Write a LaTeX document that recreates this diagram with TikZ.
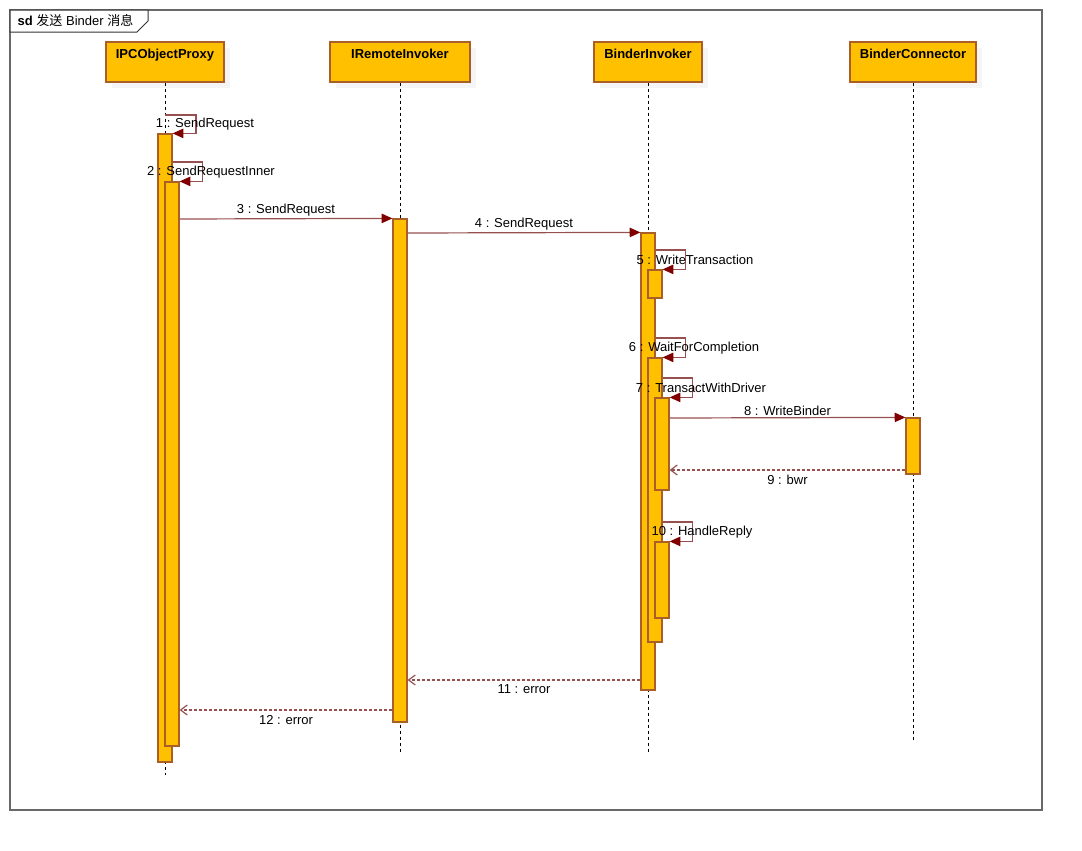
\documentclass[tikz,border=0pt]{standalone}
\usepackage{fontspec}
\setmainfont{Liberation Sans}
\newfontfamily\cjk{Noto Sans CJK SC}
\usetikzlibrary{arrows.meta,shadows}

\definecolor{barfill}{RGB}{255,192,0}
\definecolor{barline}{RGB}{170,95,40}
\definecolor{msgline}{RGB}{150,80,80}
\definecolor{tipred}{RGB}{128,0,0}
\definecolor{framegray}{RGB}{105,105,105}

\tikzset{
  every node/.style={font=\fontsize{9.75}{11.7}\selectfont},
  head/.style={draw=barline, fill=barfill, line width=0.9pt, minimum width=#1*0.75pt,
    inner ysep=3pt, text height=9.5pt, text depth=14.5pt,
    font=\fontsize{9.75}{11.7}\selectfont\bfseries,
    drop shadow={shadow xshift=4.5pt, shadow yshift=-4.5pt, fill=black!4, opacity=1}},
  actbar/.style={draw=barline, fill=barfill, line width=0.9pt, inner sep=0pt,
    minimum width=10.5pt, minimum height=#1*0.75pt},
  lifeline/.style={line width=0.75pt, dash pattern=on 2.25pt off 2.25pt},
  call/.style={draw=msgline, line width=0.9pt, -{Triangle[length=8pt,width=7pt,color=tipred]}},
  reply/.style={draw=msgline, line width=0.9pt, dash pattern=on 2.5pt off 1.25pt,
    -{Straight Barb[length=5pt,width=7.5pt]}},
}

\begin{document}
\begin{tikzpicture}[x=0.75pt,y=-0.75pt]
\useasboundingbox (0,0) rectangle (1082,850);

% frame
\draw[framegray, line width=1.5pt] (10,10) rectangle (1042,810);
\draw[fill=white, draw=black!80, line width=0.75pt] (10,10) -- (148,10) -- (148,21) -- (137,32) -- (10,32) -- cycle;
\node[anchor=west] (title) at (13,21) {\textbf{sd} {\cjk 发送} Binder {\cjk 消息}};

% lifelines
\node[head=118] (ipc) at (165,62) {IPCObjectProxy};
\node[head=140] (rem) at (400,62) {IRemoteInvoker};
\node[head=108] (bin) at (648,62) {BinderInvoker};
\node[head=126] (con) at (913,62) {BinderConnector};
\coordinate (ipcEnd) at (165,775);
\coordinate (remEnd) at (400,752);
\coordinate (binEnd) at (648,752);
\coordinate (conEnd) at (913,740);
\draw[lifeline] (ipc) -- (ipcEnd);
\draw[lifeline] (rem) -- (remEnd);
\draw[lifeline] (bin) -- (binEnd);
\draw[lifeline] (con) -- (conEnd);

% activations
\node[actbar=628] (ipc1) at (165,448) {};
\node[actbar=564] (ipc2) at (172,464) {};
\node[actbar=503] (rem1) at (400,470.5) {};
\node[actbar=457] (bin1) at (648,461.5) {};
\node[actbar=28] (bin2) at (655,284) {};
\node[actbar=284] (bin3) at (655,500) {};
\node[actbar=92] (bin4) at (662,444) {};
\node[actbar=76] (bin5) at (662,580) {};
\node[actbar=56] (con1) at (913,446) {};

% messages
\draw[call] (ipc |- 0,115) -- ++(31,0) |- (ipc1.north east);
\node (l1) at (205,124) {1 : SendRequest};
\draw[call] (ipc1.east |- 0,162) -- ++(30,0) |- (ipc2.north east);
\node (l2) at (211,172) {2 : SendRequestInner};
\draw[call] (ipc2.east |- 0,219) -- node[above, yshift=-2pt] {3 : SendRequest} (rem1.north west);
\draw[call] (rem1.east |- 0,233) -- node[above, yshift=-2pt] {4 : SendRequest} (bin1.north west);
\draw[call] (bin1.east |- 0,250) -- ++(30,0) |- (bin2.north east);
\node (l5) at (695,260) {5 : WriteTransaction};
\draw[call] (bin1.east |- 0,338) -- ++(30,0) |- (bin3.north east);
\node (l6) at (694,348) {6 : WaitForCompletion};
\draw[call] (bin3.east |- 0,378) -- ++(30,0) |- (bin4.north east);
\node (l7) at (701,388) {7 : TransactWithDriver};
\draw[call] (bin4.east |- 0,418) -- node[above, yshift=-2pt] {8 : WriteBinder} (con1.north west);
\draw[reply] (con1.west |- 0,470) -- node[below] {9 : bwr} (bin4.east |- 0,470);
\draw[call] (bin3.east |- 0,522) -- ++(30,0) |- (bin5.north east);
\node (l10) at (702,532) {10 : HandleReply};
\draw[reply] (bin1.west |- 0,680) -- node[below] {11 : error} (rem1.east |- 0,680);
\draw[reply] (rem1.west |- 0,710) -- node[below] {12 : error} (ipc2.east |- 0,710);
\end{tikzpicture}
\end{document}
